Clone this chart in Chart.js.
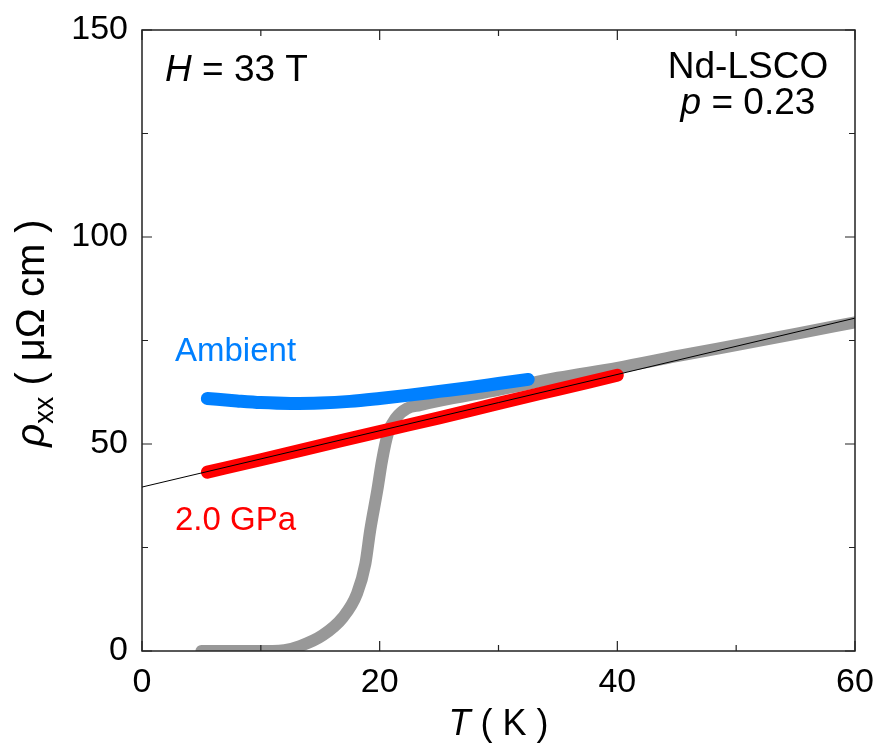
<!DOCTYPE html>
<html>
<head>
<meta charset="utf-8">
<script src="https://cdn.jsdelivr.net/npm/chart.js@4.4.0/dist/chart.umd.min.js"></script>
<style>
  body { margin: 0; background: #fff; }
  canvas { display: block; }
</style>
</head>
<body>
<canvas id="rhoChart" width="880" height="746"></canvas>
<script>
// rho_xx(T) at H = 33 T, Nd-LSCO p = 0.23
const grayT   = [5, 8, 11, 12, 13.3, 15.2, 16.9, 18.1, 18.8, 19.2, 19.8, 20.2, 20.7, 21.4, 22.3, 23.4, 25, 30, 35, 40, 45, 50, 55, 60];
const grayRho = [0, 0, 0, 0.2, 1.2, 3.8, 8.1, 13.9, 21.1, 29.1, 38.8, 46.0, 52.6, 56.4, 58.6, 59.4, 60.4, 63.1, 66.0, 68.4, 71.2, 73.9, 76.6, 79.4];

const ambientT   = [5.5, 8, 10, 12.5, 15, 17.5, 20, 22.5, 25, 27.5, 30, 32.5];
const ambientRho = [61.0, 60.4, 60.0, 59.8, 59.9, 60.3, 61.0, 61.8, 62.7, 63.6, 64.6, 65.6];

const gpaT   = [5.5, 10, 15, 20, 25, 30, 35, 40];
const gpaRho = [43.2, 46.2, 49.6, 53.0, 56.3, 59.8, 63.2, 66.6];

// linear fit through the 2.0 GPa data
const fitT   = [0, 60];
const fitRho = [39.6, 80.4];

const xMajor = [0, 20, 40, 60];
const xMinor = [10, 30, 50];
const yMajor = [0, 50, 100, 150];
const yMinor = [25, 75, 125];

const FONT = '"Liberation Sans", Arial, Helvetica, sans-serif';
const BLUE = 'rgb(0,128,255)';
const RED = 'rgb(255,0,0)';
const GRAY = 'rgb(152,152,152)';

const pts = (xs, ys) => xs.map((v, i) => ({ x: v, y: ys[i] }));

const lineStyle = (color, width) => ({
    borderColor: color,
    backgroundColor: color,
    borderWidth: width,
    borderCapStyle: 'round',
    borderJoinStyle: 'round',
    pointRadius: 0,
    fill: false,
    cubicInterpolationMode: 'monotone'
});

function drawRuns(ctx, runs, x0, yBase, centered) {
    let total = 0;
    runs.forEach(r => { ctx.font = r[1]; total += ctx.measureText(r[0]).width; });
    let cx = centered ? x0 - total / 2 : x0;
    ctx.textAlign = 'left';
    runs.forEach(r => {
        ctx.font = r[1];
        ctx.fillText(r[0], cx, yBase + (r[2] || 0));
        cx += ctx.measureText(r[0]).width;
    });
}

// frame, inward ticks on all four sides, titles and labels
const decorations = {
    id: 'decorations',
    afterDraw(chart) {
        const { ctx, chartArea: a, scales: { x, y } } = chart;
        ctx.save();
        ctx.strokeStyle = '#222';
        ctx.lineWidth = 1.5;
        ctx.strokeRect(a.left, a.top, a.right - a.left, a.bottom - a.top);

        ctx.lineWidth = 1.2;
        ctx.beginPath();
        const xTick = (v, len) => {
            const px = x.getPixelForValue(v);
            ctx.moveTo(px, a.bottom); ctx.lineTo(px, a.bottom - len);
            ctx.moveTo(px, a.top); ctx.lineTo(px, a.top + len);
        };
        const yTick = (v, len) => {
            const py = y.getPixelForValue(v);
            ctx.moveTo(a.left, py); ctx.lineTo(a.left + len, py);
            ctx.moveTo(a.right, py); ctx.lineTo(a.right - len, py);
        };
        xMajor.forEach(v => xTick(v, 10));
        xMinor.forEach(v => xTick(v, 6));
        yMajor.forEach(v => yTick(v, 10));
        yMinor.forEach(v => yTick(v, 6));
        ctx.stroke();

        ctx.fillStyle = '#000';
        ctx.textBaseline = 'alphabetic';

        // x title: T ( K )
        drawRuns(ctx, [['T', 'italic 36px ' + FONT], [' ( K )', '36px ' + FONT]], (a.left + a.right) / 2, 735, true);

        // y title: rho_xx ( μΩ cm ), rotated
        ctx.save();
        ctx.translate(44, 333);
        ctx.rotate(-Math.PI / 2);
        drawRuns(ctx, [['ρ', 'italic 40px ' + FONT, 0], ['xx', '27px ' + FONT, 9], [' ( μΩ cm )', '40px ' + FONT, 0]], 0, 0, true);
        ctx.restore();

        // annotations
        drawRuns(ctx, [['H', 'italic 37px ' + FONT], [' = 33 T', '37px ' + FONT]], 165, 81, false);
        ctx.font = '37px ' + FONT;
        ctx.textAlign = 'center';
        ctx.fillText('Nd-LSCO', 748, 78);
        drawRuns(ctx, [['p', 'italic 37px ' + FONT], [' = 0.23', '37px ' + FONT]], 748, 114, true);

        ctx.font = '33px ' + FONT;
        ctx.textAlign = 'left';
        ctx.fillStyle = BLUE;
        ctx.fillText('Ambient', 175, 361);
        ctx.fillStyle = RED;
        ctx.fillText('2.0 GPa', 175, 530);
        ctx.restore();
    }
};

const ctx = document.getElementById('rhoChart').getContext('2d');

new Chart(ctx, {
    type: 'line',
    data: {
        datasets: [
            { label: 'fit', data: pts(fitT, fitRho), ...lineStyle('#000', 1), cubicInterpolationMode: 'default', tension: 0 },
            { label: '2.0 GPa', data: pts(gpaT, gpaRho), ...lineStyle(RED, 13) },
            { label: 'Ambient', data: pts(ambientT, ambientRho), ...lineStyle(BLUE, 13) },
            { label: '33 T', data: pts(grayT, grayRho), ...lineStyle(GRAY, 12) }
        ]
    },
    options: {
        responsive: false,
        animation: false,
        events: [],
        layout: { padding: { left: 0, right: 25, top: 30, bottom: 0 } },
        plugins: { legend: { display: false }, tooltip: { enabled: false } },
        scales: {
            x: {
                type: 'linear',
                min: 0, max: 60,
                grid: { display: false, drawTicks: false },
                border: { display: false },
                afterFit: s => { s.height = 95; s.paddingLeft = 0; s.paddingRight = 0; },
                afterBuildTicks: s => { s.ticks = xMajor.map(v => ({ value: v })); },
                ticks: {
                    autoSkip: false, maxRotation: 0, padding: 11,
                    color: '#000', font: { family: FONT, size: 34 }
                }
            },
            y: {
                type: 'linear',
                min: 0, max: 150,
                grid: { display: false, drawTicks: false },
                border: { display: false },
                afterFit: s => { s.width = 142; s.paddingTop = 0; s.paddingBottom = 0; },
                afterBuildTicks: s => { s.ticks = yMajor.map(v => ({ value: v })); },
                ticks: {
                    autoSkip: false, padding: 14,
                    color: '#000', font: { family: FONT, size: 34 }
                }
            }
        }
    },
    plugins: [decorations]
});
</script>
</body>
</html>
